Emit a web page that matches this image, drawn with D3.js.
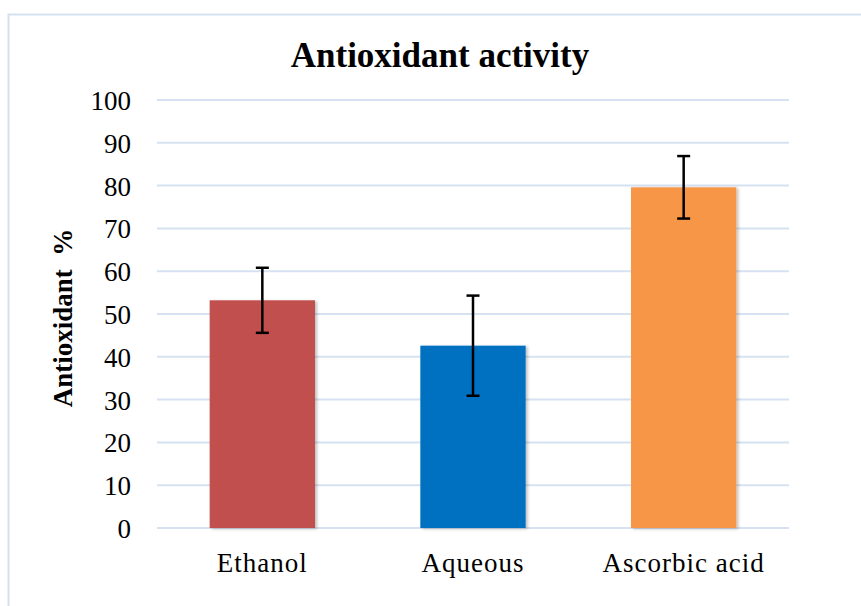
<!DOCTYPE html>
<meta charset="utf-8">
<head>
    <title>Antioxidant activity</title>
</head>
<style>
    body {
        margin: 0;
        background: #fff;
    }

    text {
        font-family: 'Liberation Serif', 'Times New Roman', serif;
        fill: #000;
    }

    .grid line {
        stroke: #d6e2f1;
        stroke-width: 2;
    }

    .title {
        font-size: 35px;
        font-weight: bold;
        text-anchor: middle;
    }

    .y_label {
        font-size: 27px;
        font-weight: bold;
        text-anchor: middle;
    }
</style>
<body>
    <svg id="chart" width="861" height="606"></svg>

    <script src="https://d3js.org/d3.v7.min.js"></script>
    <script>
        // data
        const categories = ["Ethanol", "Aqueous", "Ascorbic acid"];
        const values = [53.2, 42.6, 79.6];
        const errors = [7.6, 11.7, 7.3];
        const colors = ["#c0504d", "#0070c0", "#f79646"];
        const yTicks = [0, 10, 20, 30, 40, 50, 60, 70, 80, 90, 100];

        const chart = d3.select("#chart");

        // frame
        chart.append("rect")
            .attr("x", 8.5)
            .attr("y", 14.5)
            .attr("width", 870)
            .attr("height", 620)
            .attr("fill", "#fff")
            .attr("stroke", "#d5e1f0")
            .attr("stroke-width", 2);

        const plotLeft = 157, plotRight = 789, plotTop = 100, plotBottom = 528;

        const xScale = d3.scaleBand()
            .domain(categories)
            .range([plotLeft, plotRight])
            .paddingInner(0.5)
            .paddingOuter(0.25);

        const yScale = d3.scaleLinear()
            .domain([0, 100])
            .range([plotBottom, plotTop]);

        // shadow under bars
        const defs = chart.append("defs");
        const filter = defs.append("filter").attr("id", "shadow")
            .attr("x", "-10%").attr("y", "-10%").attr("width", "130%").attr("height", "130%");
        filter.append("feDropShadow")
            .attr("dx", 2).attr("dy", 1).attr("stdDeviation", 1.5)
            .attr("flood-color", "#000").attr("flood-opacity", 0.25);

        // gridlines
        chart.append("g")
            .attr("class", "grid")
            .selectAll("line")
            .data(yTicks)
            .enter()
            .append("line")
            .attr("x1", plotLeft)
            .attr("x2", plotRight)
            .attr("y1", d => yScale(d))
            .attr("y2", d => yScale(d));

        // y axis labels
        const yAxis = chart.append("g")
            .attr("transform", "translate(" + (plotLeft - 26) + ",0)")
            .call(d3.axisLeft(yScale).tickValues(yTicks).tickSize(0).tickPadding(0));
        yAxis.select(".domain").remove();
        yAxis.selectAll("text")
            .attr("dy", "0.35em")
            .style("font-family", "'Liberation Serif', serif")
            .style("font-size", "27px");

        // x axis labels
        const xAxis = chart.append("g")
            .attr("transform", "translate(0," + plotBottom + ")")
            .call(d3.axisBottom(xScale).tickSize(0));
        xAxis.select(".domain").remove();
        xAxis.selectAll("text")
            .attr("y", 44)
            .attr("dy", 0)
            .style("font-family", "'Liberation Serif', serif")
            .style("font-size", "27px")
            .style("letter-spacing", "1px");

        // bars
        chart.append("g")
            .selectAll("rect")
            .data(categories)
            .enter()
            .append("rect")
            .attr("x", d => xScale(d))
            .attr("y", (d, i) => yScale(values[i]))
            .attr("width", xScale.bandwidth())
            .attr("height", (d, i) => yScale(0) - yScale(values[i]))
            .attr("fill", (d, i) => colors[i])
            .attr("filter", "url(#shadow)");

        // error bars
        const capHalf = 6.5;
        const err = chart.append("g")
            .attr("stroke", "#000")
            .attr("stroke-width", 2.5)
            .selectAll("g")
            .data(categories)
            .enter()
            .append("g");
        const cx = d => xScale(d) + xScale.bandwidth() / 2;
        err.append("line")
            .attr("x1", cx).attr("x2", cx)
            .attr("y1", (d, i) => yScale(values[i] + errors[i]))
            .attr("y2", (d, i) => yScale(values[i] - errors[i]));
        err.append("line")
            .attr("x1", d => cx(d) - capHalf).attr("x2", d => cx(d) + capHalf)
            .attr("y1", (d, i) => yScale(values[i] + errors[i]))
            .attr("y2", (d, i) => yScale(values[i] + errors[i]));
        err.append("line")
            .attr("x1", d => cx(d) - capHalf).attr("x2", d => cx(d) + capHalf)
            .attr("y1", (d, i) => yScale(values[i] - errors[i]))
            .attr("y2", (d, i) => yScale(values[i] - errors[i]));

        // titles
        chart.append("text")
            .attr("class", "title")
            .attr("x", 440)
            .attr("y", 67)
            .text("Antioxidant activity");

        chart.append("text")
            .attr("class", "y_label")
            .attr("transform", "translate(72,318)rotate(-90)")
            .style("white-space", "pre")
            .text("Antioxidant  %");
    </script>
</body>
